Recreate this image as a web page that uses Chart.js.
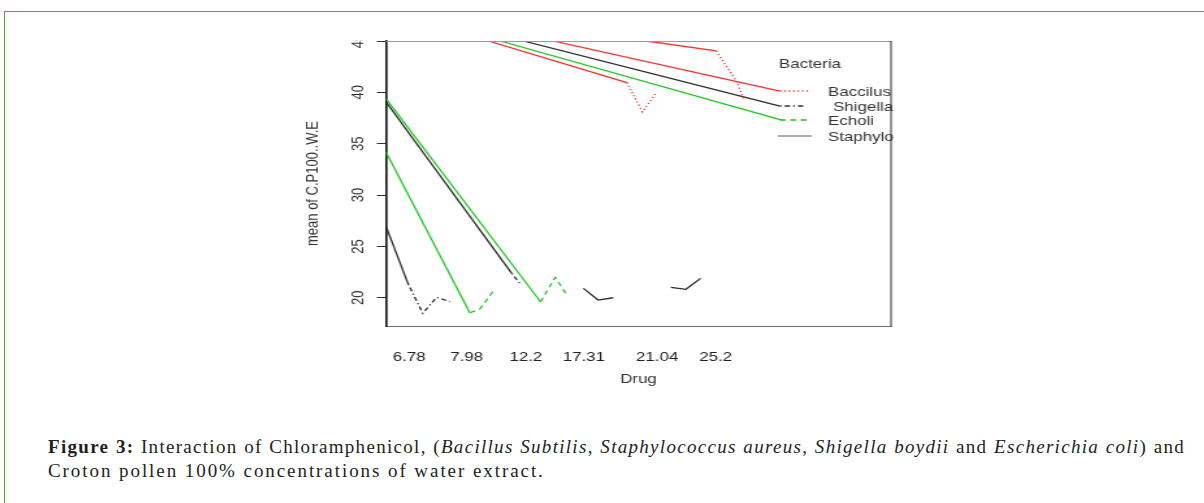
<!DOCTYPE html>
<html>
<head>
<meta charset="utf-8">
<script src="https://cdn.jsdelivr.net/npm/chart.js@4"></script>
<style>
  body { margin: 0; width: 1204px; height: 503px; background: #fff; overflow: hidden; position: relative; }
  .frame { position: absolute; left: 4px; top: 11px; width: 1300px; height: 600px;
           border-left: 1px solid #5da13c; border-top: 1px solid #5da13c; }
  .plot { position: absolute; left: 280px; top: 40px; width: 485px; height: 359px;
          transform: scaleX(1.3); transform-origin: 0 0; }
  .caption { position: absolute; left: 48px; top: 435px; width: 1137px;
             font: 19px "Liberation Serif", serif; line-height: 24px; color: #231f20; }
  .caption .l1 { text-align: justify; text-align-last: justify; }
  .caption .l2 { white-space: nowrap; }
</style>
</head>
<body>
<div class="frame"></div>
<div class="plot"><canvas id="chart"></canvas></div>
<div class="caption">
  <div class="l1"><b>Figure 3:</b> Interaction of Chloramphenicol, (<i>Bacillus Subtilis</i>, <i>Staphylococcus aureus</i>, <i>Shigella boydii</i> and <i>Escherichia coli</i>) and</div>
  <div class="l2">Croton pollen 100% concentrations of water extract.</div>
</div>
<script>
// x axis: Drug levels (positions along the axis, axis runs 0..10)
const drugLabels = ['6.78', '7.98', '12.2', '17.31', '21.04', '25.2'];
const drugPos = [0.46, 1.6, 2.77, 3.92, 5.37, 6.53];
const yTicks = [20, 25, 30, 35, 40, 45];

// traced polylines [x, mean]
const baccilusA = [[2.03, 45], [4.77, 40.95], [5.08, 38.09], [5.36, 40.04]];
const baccilusB = [[3.31, 45], [7.8, 40.11]];
const baccilusC = [[5.16, 45], [6.54, 44.03], [6.95, 41.01], [7.09, 39.3]];
const shigellaA = [[0, 39.07], [2.49, 22.37], [2.65, 21.4]];
const shigellaB = [[0, 26.97], [0.44, 21.33], [0.73, 18.48], [1.0, 20.04], [1.27, 19.61]];
const shigellaC = [[2.72, 45], [7.8, 38.65]];
const echoliA = [[0, 39.4], [3.06, 19.61], [3.35, 21.98], [3.56, 20.43]];
const echoliB = [[0, 34.2], [1.66, 18.54], [1.86, 18.9], [2.13, 20.68]];
const echoliC = [[2.26, 45], [7.84, 37.29]];
const staphyloA = [[3.91, 20.91], [4.2, 19.78], [4.5, 20.0]];
const staphyloB = [[5.64, 21.01], [5.94, 20.82], [6.23, 21.89]];

const RED = '#ff2a2a', GREEN = '#1ec81e', BLACK = '#2b2b2b';
const DOT = [1.2, 2.2], DASH = [4.5, 3.5], DOTDASH = [1.2, 2.5, 4, 2.5];

function line(pts, color, dash) {
  return {
    data: pts.map(p => ({ x: p[0], y: p[1] })),
    borderColor: color,
    borderWidth: 1.3,
    pointRadius: 0,
    tension: 0,
    fill: false,
    // first segment solid, the rest in the group's line type
    segment: { borderDash: ctx => (dash && ctx.p0DataIndex >= 1) ? dash : [] }
  };
}

const legendItems = [
  { text: 'Baccilus', color: RED, dash: DOT, y: 51, x0: 384.6, x1: 406.2, tx: 421.5 },
  { text: 'Shigella', color: BLACK, dash: DOTDASH, y: 66, x0: 384.6, x1: 403.8, tx: 425.4 },
  { text: 'Echoli', color: GREEN, dash: DASH, y: 80, x0: 384.6, x1: 406.2, tx: 421.5 },
  { text: 'Staphylo', color: '#808080', dash: [], y: 96, x0: 383, x1: 409, tx: 421.5 }
];

const decor = {
  id: 'decor',
  afterDraw(chart) {
    const ctx = chart.ctx, a = chart.chartArea, ys = chart.scales.y;
    ctx.save();
    // box
    ctx.lineWidth = 1;
    ctx.strokeStyle = '#9a9a9a';
    ctx.beginPath(); ctx.moveTo(a.left, a.top + 0.5); ctx.lineTo(a.right, a.top + 0.5); ctx.stroke();
    ctx.strokeStyle = '#111';
    ctx.lineWidth = 0.9;
    ctx.beginPath(); ctx.moveTo(a.right, a.top); ctx.lineTo(a.right, a.bottom); ctx.stroke();
    // rotated y tick labels
    ctx.fillStyle = '#333';
    ctx.font = '13px "Liberation Sans", Arial, sans-serif';
    ctx.textAlign = 'center';
    ctx.textBaseline = 'middle';
    ys.ticks.forEach(t => {
      ctx.save();
      ctx.translate(60, ys.getPixelForValue(t.value));
      ctx.rotate(-Math.PI / 2);
      ctx.fillText(String(t.value), 0, 0);
      ctx.restore();
    });
    // legend
    ctx.fillText('Bacteria', 407.7, 24);
    ctx.textAlign = 'left';
    legendItems.forEach(it => {
      ctx.strokeStyle = it.color;
      ctx.lineWidth = 1.3;
      ctx.setLineDash(it.dash);
      ctx.beginPath(); ctx.moveTo(it.x0, it.y); ctx.lineTo(it.x1, it.y); ctx.stroke();
      ctx.setLineDash([]);
      ctx.fillText(it.text, it.tx, it.y + 1);
    });
    ctx.restore();
  }
};

new Chart(document.getElementById('chart'), {
  type: 'line',
  data: {
    datasets: [
      line(baccilusA, RED, DOT), line(baccilusB, RED, null), line(baccilusC, RED, DOT),
      line(shigellaA, BLACK, DOTDASH), line(shigellaB, BLACK, DOTDASH), line(shigellaC, BLACK, null),
      line(echoliA, GREEN, DASH), line(echoliB, GREEN, DASH), line(echoliC, GREEN, null),
      line(staphyloA, BLACK, null), line(staphyloB, BLACK, null)
    ]
  },
  options: {
    responsive: true,
    maintainAspectRatio: false,
    animation: false,
    layout: { padding: { top: 1, right: 15, left: 0, bottom: 0 } },
    plugins: { legend: { display: false }, tooltip: { enabled: false } },
    scales: {
      x: {
        type: 'linear', min: 0, max: 10,
        afterBuildTicks: s => { s.ticks = drugPos.map(v => ({ value: v })); },
        afterFit: s => { s.height = 73; },
        grid: { display: false },
        border: { display: true, color: '#6e6e6e', width: 1 },
        ticks: {
          autoSkip: false, maxRotation: 0, padding: 16,
          color: '#222', font: { family: '"Liberation Sans", Arial', size: 13 },
          callback: (v, i) => drugLabels[i]
        },
        title: {
          display: true, text: 'Drug', color: '#333',
          font: { family: '"Liberation Sans", Arial', size: 13 },
          padding: { top: 0, bottom: 12 }
        }
      },
      y: {
        type: 'linear', min: 17.25, max: 45,
        afterBuildTicks: s => { s.ticks = yTicks.map(v => ({ value: v })); },
        afterFit: s => { s.width = 81.5; },
        grid: { drawOnChartArea: false, drawTicks: true, tickLength: 7, color: '#333' },
        border: { display: true, color: '#1a1a1a', width: 1.7 },
        ticks: { display: false },
        title: {
          display: true, text: 'mean of C.P100..W.E', color: '#333',
          font: { family: '"Liberation Sans", Arial', size: 13 },
          padding: { top: 18, bottom: 0 }
        }
      }
    }
  },
  plugins: [decor]
});

// widen each caption line with letter spacing, as the original serif is wider
function fitLine(el, target, share) {
  const probe = document.createElement('span');
  probe.innerHTML = el.innerHTML;
  probe.style.whiteSpace = 'nowrap';
  el.parentNode.appendChild(probe);
  const natural = probe.getBoundingClientRect().width;
  probe.remove();
  const sp = Math.max(0, (target - natural) / el.textContent.length * share);
  el.style.letterSpacing = sp.toFixed(2) + 'px';
}
fitLine(document.querySelector('.caption .l1'), 1137, 0.95);
fitLine(document.querySelector('.caption .l2'), 497, 1);
</script>
</body>
</html>
